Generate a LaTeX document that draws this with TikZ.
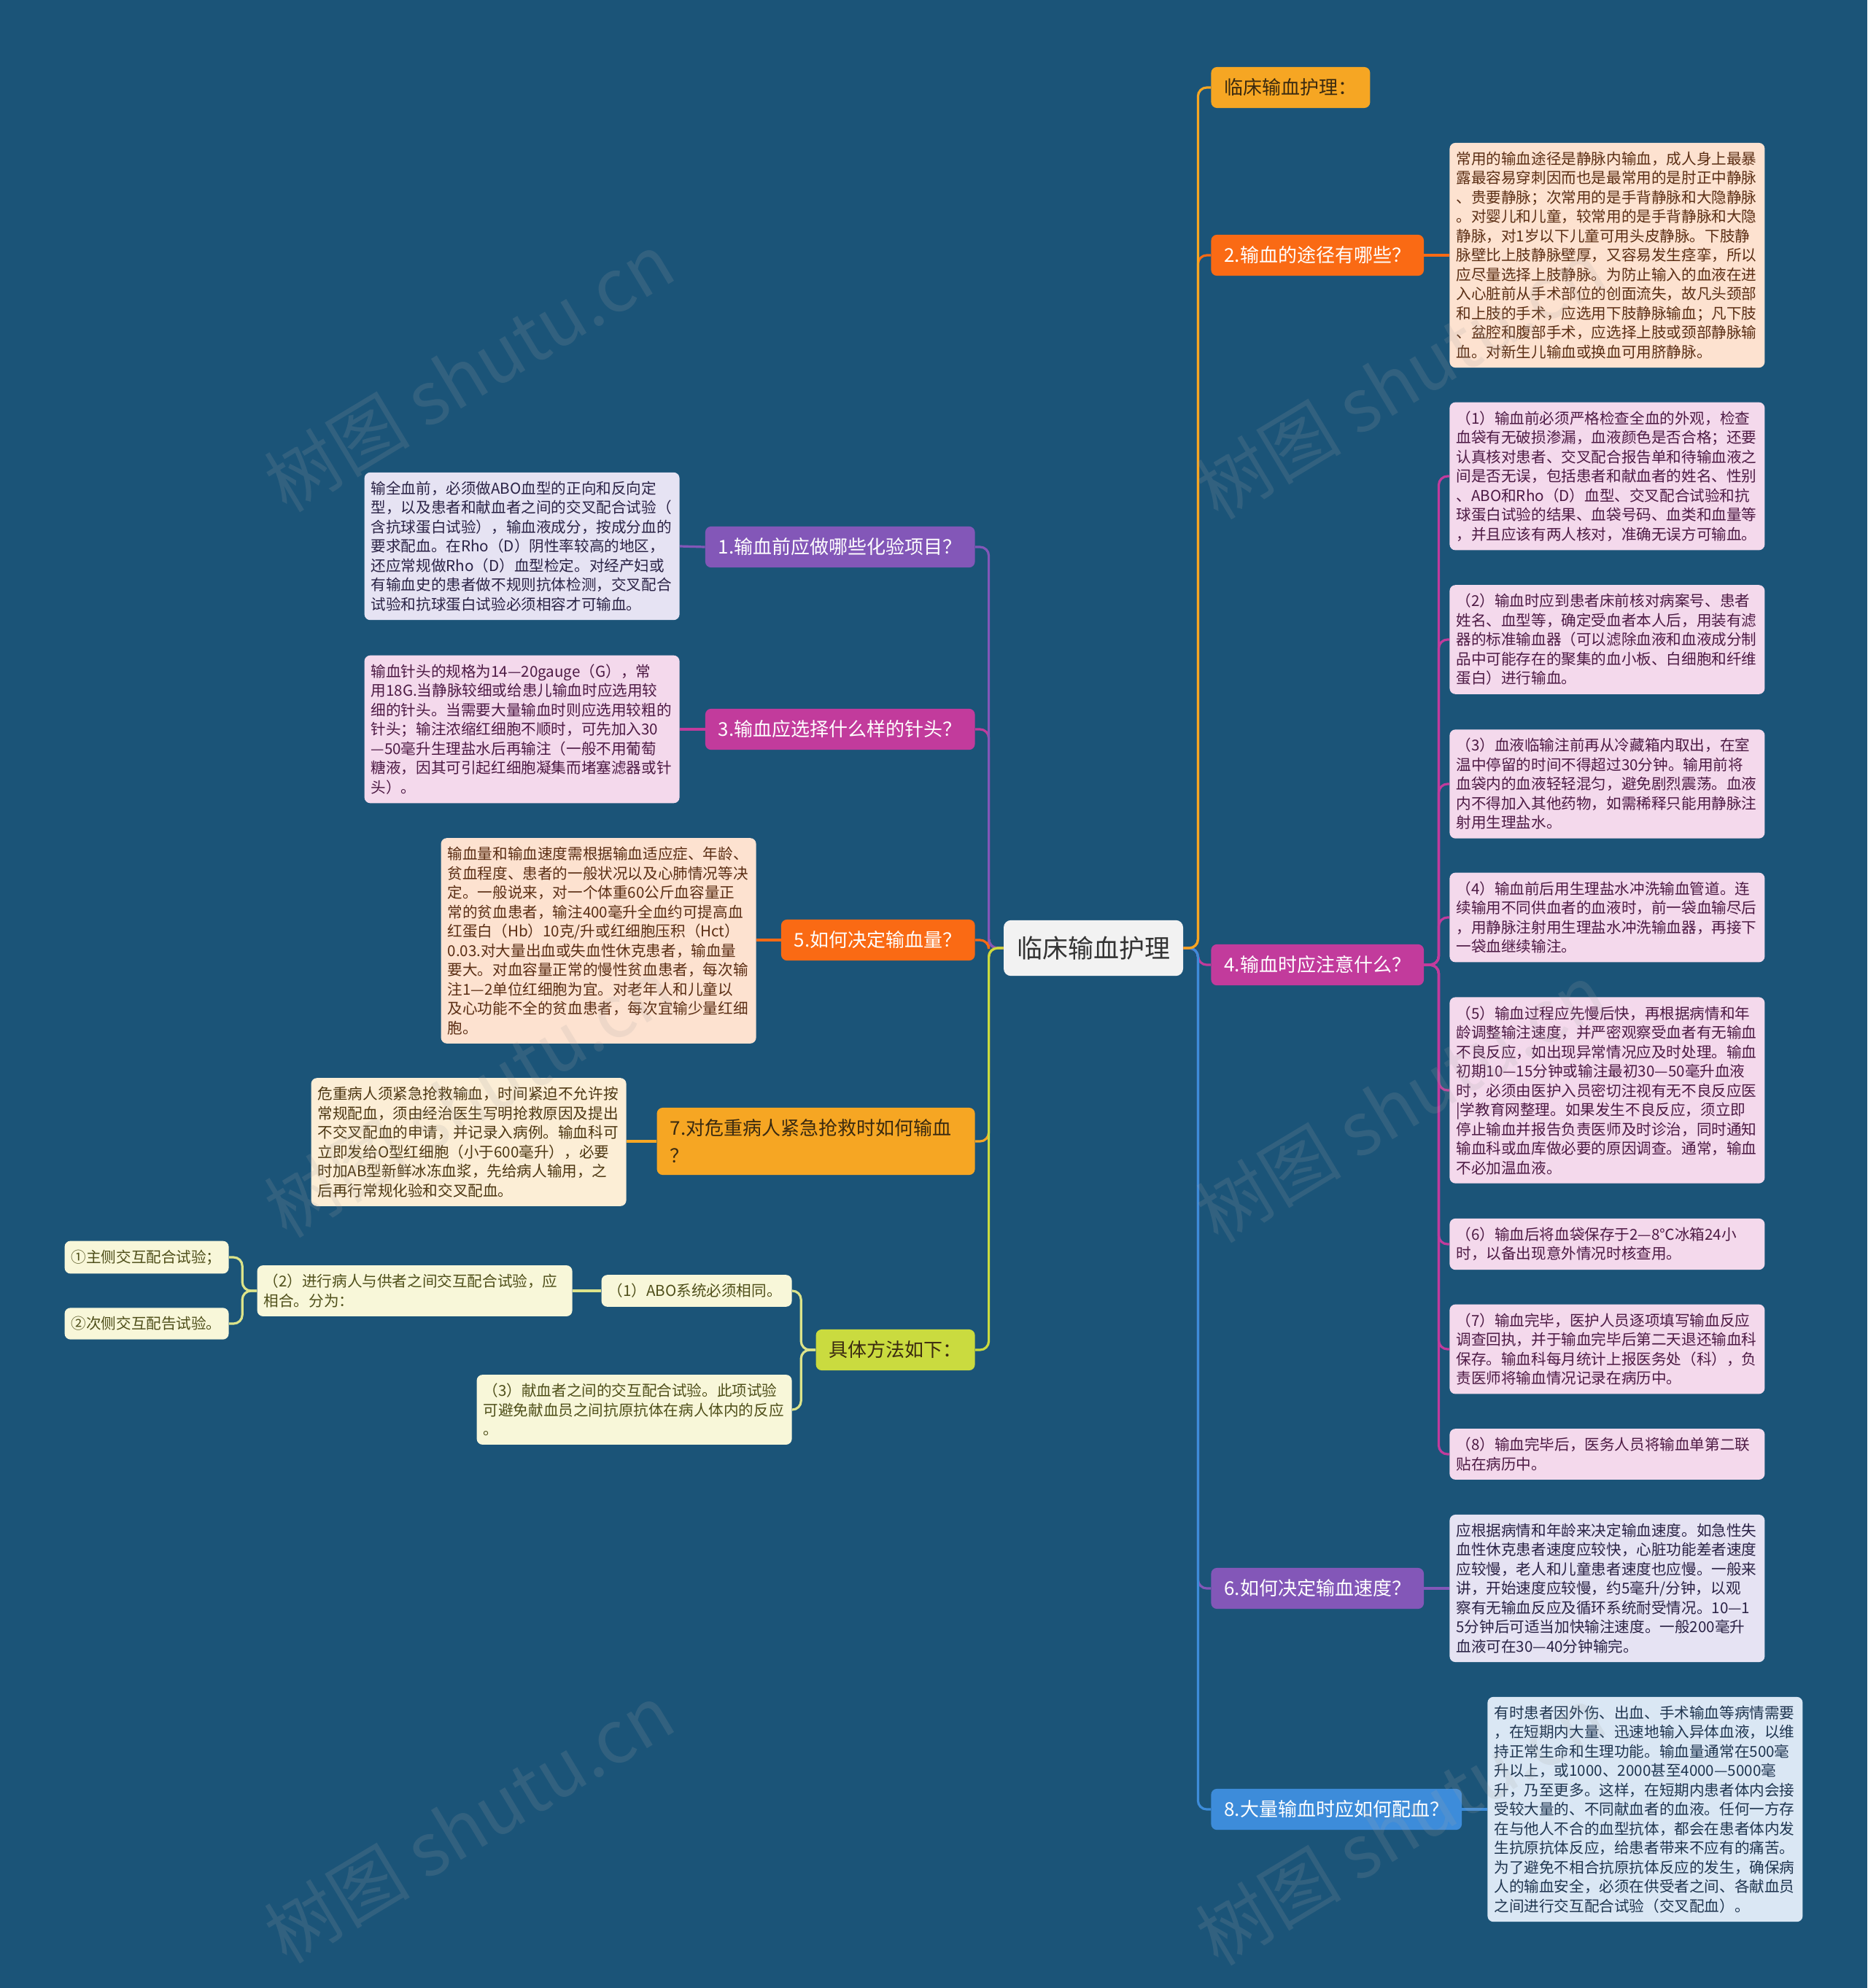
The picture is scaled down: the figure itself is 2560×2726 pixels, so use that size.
\documentclass[tikz,border=0pt]{standalone}
\usepackage{fontspec}
\setmainfont{Noto Sans CJK SC}
\definecolor{bgblue}{HTML}{1B5478}
\definecolor{rootfill}{HTML}{F2F2F2}
\definecolor{cAmber}{HTML}{F6A623}
\definecolor{cOrange}{HTML}{FA6A14}
\definecolor{cMagenta}{HTML}{C23B9C}
\definecolor{cPurple}{HTML}{8357B8}
\definecolor{cBlue}{HTML}{3D8CDA}
\definecolor{cLime}{HTML}{CADB3F}
\definecolor{lLime}{HTML}{DCE48A}
\definecolor{fPeach}{HTML}{FDE2D0}
\definecolor{fPink}{HTML}{F4D9EC}
\definecolor{fLav}{HTML}{E6E3F3}
\definecolor{fSky}{HTML}{DAE7F4}
\definecolor{fCream}{HTML}{FCEED6}
\definecolor{fLemon}{HTML}{F8F7D9}
\definecolor{tPeach}{HTML}{5B2E14}
\definecolor{tPink}{HTML}{4D1A44}
\definecolor{tLav}{HTML}{2A2245}
\definecolor{tSky}{HTML}{1F3550}
\definecolor{tCream}{HTML}{4D3712}
\definecolor{tLemon}{HTML}{4F4F1A}
\definecolor{tDark}{HTML}{3A2A10}
\tikzset{
  root/.style={fill=rootfill, text=black!80, rounded corners=5pt, inner xsep=9pt, inner ysep=11pt, font=\fontsize{17.5}{21}\selectfont},
  topic/.style={fill=#1, text=white, rounded corners=4pt, inner xsep=9pt, inner ysep=8pt, font=\fontsize{13}{19}\selectfont},
  note/.style={rounded corners=4pt, inner xsep=4.5pt, inner ysep=6pt, text width=207pt, align=left, font=\fontsize{10.3}{13.25}\selectfont},
  peach/.style={note, fill=fPeach, text=tPeach},
  pink/.style={note, fill=fPink, text=tPink},
  lav/.style={note, fill=fLav, text=tLav},
  sky/.style={note, fill=fSky, text=tSky},
  cream/.style={note, fill=fCream, text=tCream},
  lemon/.style={note, fill=fLemon, text=tLemon},
  link/.style={draw=#1, line width=1.6pt, rounded corners=6pt},
  wm/.style={text=gray!70, opacity=0.17, rotate=31, font=\fontsize{50}{50}\selectfont}
}
\begin{document}
\begin{tikzpicture}[x=0.5pt,y=-0.5pt]
\fill[bgblue] (0,0) rectangle (2560,2726);
\useasboundingbox (0,0) rectangle (2560,2726);

\node[root] (root) at (1499,1300) {临床输血护理};

\node[topic=cAmber, text=tDark, anchor=west] (t0) at (1660,120) {临床输血护理：};
\node[topic=cOrange, anchor=west] (t2) at (1660,350) {2.输血的途径有哪些？};
\node[topic=cMagenta, anchor=west] (t4) at (1660,1323) {4.输血时应注意什么？};
\node[topic=cPurple, anchor=west] (t6) at (1660,2178) {6.如何决定输血速度？};
\node[topic=cBlue, anchor=west] (t8) at (1660,2481) {8.大量输血时应如何配血？};

\node[topic=cPurple, anchor=east] (t1) at (1337,750) {1.输血前应做哪些化验项目？};
\node[topic=cMagenta, anchor=east] (t3) at (1337,1000) {3.输血应选择什么样的针头？};
\node[topic=cOrange, anchor=east] (t5) at (1337,1289) {5.如何决定输血量？};
\node[topic=cAmber, text=tDark, anchor=east, text width=200pt, align=left] (t7) at (1337,1565) {7.对危重病人紧急抢救时如何输血\\？};
\node[topic=cLime, text=tDark, anchor=east] (tm) at (1337,1851) {具体方法如下：};

\node[peach, anchor=west] (n2) at (1987,350) {常用的输血途径是静脉内输血，成人身上最暴\\露最容易穿刺因而也是最常用的是肘正中静脉\\、贵要静脉；次常用的是手背静脉和大隐静脉\\。对婴儿和儿童，较常用的是手背静脉和大隐\\静脉，对1岁以下儿童可用头皮静脉。下肢静\\脉壁比上肢静脉壁厚，又容易发生痉挛，所以\\应尽量选择上肢静脉。为防止输入的血液在进\\入心脏前从手术部位的创面流失，故凡头颈部\\和上肢的手术，应选用下肢静脉输血；凡下肢\\、盆腔和腹部手术，应选择上肢或颈部静脉输\\血。对新生儿输血或换血可用脐静脉。};

\node[pink, anchor=west] (r1) at (1987,653) {（1）输血前必须严格检查全血的外观，检查\\血袋有无破损渗漏，血液颜色是否合格；还要\\认真核对患者、交叉配合报告单和待输血液之\\间是否无误，包括患者和献血者的姓名、性别\\、ABO和Rho（D）血型、交叉配合试验和抗\\球蛋白试验的结果、血袋号码、血类和血量等\\，并且应该有两人核对，准确无误方可输血。};
\node[pink, anchor=west] (r2) at (1987,877) {（2）输血时应到患者床前核对病案号、患者\\姓名、血型等，确定受血者本人后，用装有滤\\器的标准输血器（可以滤除血液和血液成分制\\品中可能存在的聚集的血小板、白细胞和纤维\\蛋白）进行输血。};
\node[pink, anchor=west] (r3) at (1987,1075) {（3）血液临输注前再从冷藏箱内取出，在室\\温中停留的时间不得超过30分钟。输用前将\\血袋内的血液轻轻混匀，避免剧烈震荡。血液\\内不得加入其他药物，如需稀释只能用静脉注\\射用生理盐水。};
\node[pink, anchor=west] (r4) at (1987,1258) {（4）输血前后用生理盐水冲洗输血管道。连\\续输用不同供血者的血液时，前一袋血输尽后\\，用静脉注射用生理盐水冲洗输血器，再接下\\一袋血继续输注。};
\node[pink, anchor=west] (r5) at (1987,1495) {（5）输血过程应先慢后快，再根据病情和年\\龄调整输注速度，并严密观察受血者有无输血\\不良反应，如出现异常情况应及时处理。输血\\初期10—15分钟或输注最初30—50毫升血液\\时，必须由医护入员密切注视有无不良反应医\\|学教育网整理。如果发生不良反应，须立即\\停止输血并报告负责医师及时诊治，同时通知\\输血科或血库做必要的原因调查。通常，输血\\不必加温血液。};
\node[pink, anchor=west] (r6) at (1987,1706) {（6）输血后将血袋保存于2—8℃冰箱24小\\时，以备出现意外情况时核查用。};
\node[pink, anchor=west] (r7) at (1987,1850) {（7）输血完毕，医护人员逐项填写输血反应\\调查回执，并于输血完毕后第二天退还输血科\\保存。输血科每月统计上报医务处（科），负\\责医师将输血情况记录在病历中。};
\node[pink, anchor=west] (r8) at (1987,1994) {（8）输血完毕后，医务人员将输血单第二联\\贴在病历中。};

\node[lav, anchor=west] (n6) at (1987,2178) {应根据病情和年龄来决定输血速度。如急性失\\血性休克患者速度应较快，心脏功能差者速度\\应较慢，老人和儿童患者速度也应慢。一般来\\讲，开始速度应较慢，约5毫升/分钟，以观\\察有无输血反应及循环系统耐受情况。10—1\\5分钟后可适当加快输注速度。一般200毫升\\血液可在30—40分钟输完。};
\node[sky, anchor=west] (n8) at (2039,2481) {有时患者因外伤、出血、手术输血等病情需要\\，在短期内大量、迅速地输入异体血液，以维\\持正常生命和生理功能。输血量通常在500毫\\升以上，或1000、2000甚至4000—5000毫\\升，乃至更多。这样，在短期内患者体内会接\\受较大量的、不同献血者的血液。任何一方存\\在与他人不合的血型抗体，都会在患者体内发\\生抗原抗体反应，给患者带来不应有的痛苦。\\为了避免不相合抗原抗体反应的发生，确保病\\人的输血安全，必须在供受者之间、各献血员\\之间进行交互配合试验（交叉配血）。};

\node[lav, anchor=east] (n1) at (932,749) {输全血前，必须做ABO血型的正向和反向定\\型，以及患者和献血者之间的交叉配合试验（\\含抗球蛋白试验），输血液成分，按成分血的\\要求配血。在Rho（D）阴性率较高的地区，\\还应常规做Rho（D）血型检定。对经产妇或\\有输血史的患者做不规则抗体检测，交叉配合\\试验和抗球蛋白试验必须相容才可输血。};
\node[pink, anchor=east] (n3) at (932,1000) {输血针头的规格为14—20gauge（G），常\\用18G.当静脉较细或给患儿输血时应选用较\\细的针头。当需要大量输血时则应选用较粗的\\针头；输注浓缩红细胞不顺时，可先加入30\\—50毫升生理盐水后再输注（一般不用葡萄\\糖液，因其可引起红细胞凝集而堵塞滤器或针\\头）。};
\node[peach, anchor=east] (n5) at (1037,1290) {输血量和输血速度需根据输血适应症、年龄、\\贫血程度、患者的一般状况以及心肺情况等决\\定。一般说来，对一个体重60公斤血容量正\\常的贫血患者，输注400毫升全血约可提高血\\红蛋白（Hb）10克/升或红细胞压积（Hct）\\0.03.对大量出血或失血性休克患者，输血量\\要大。对血容量正常的慢性贫血患者，每次输\\注1—2单位红细胞为宜。对老年人和儿童以\\及心功能不全的贫血患者，每次宜输少量红细\\胞。};
\node[cream, anchor=east] (n7) at (859,1566) {危重病人须紧急抢救输血，时间紧迫不允许按\\常规配血，须由经治医生写明抢救原因及提出\\不交叉配血的申请，并记录入病例。输血科可\\立即发给O型红细胞（小于600毫升），必要\\时加AB型新鲜冰冻血浆，先给病人输用，之\\后再行常规化验和交叉配血。};

\node[lemon, anchor=east, text width=121.5pt] (m1) at (1086,1770) {（1）ABO系统必须相同。};
\node[lemon, anchor=east] (m2) at (785,1770) {（2）进行病人与供者之间交互配合试验，应\\相合。分为：};
\node[lemon, anchor=east] (m3) at (1086,1933) {（3）献血者之间的交互配合试验。此项试验\\可避免献血员之间抗原抗体在病人体内的反应\\。};
\node[lemon, anchor=east, text width=103.5pt] (c1) at (314,1724) {①主侧交互配合试验；};
\node[lemon, anchor=east, text width=103.5pt] (c2) at (314,1815) {②次侧交互配告试验。};

\draw[link=cMagenta] (root.east) -- ++(20,0) |- (t4.west);
\draw[link=cPurple] (root.east) -- ++(20,0) |- (t6.west);
\draw[link=cBlue] (root.east) -- ++(20,0) |- (t8.west);
\draw[link=cOrange] (root.east) -- ++(20,0) |- (t2.west);
\draw[link=cAmber] (root.east) -- ++(20,0) |- (t0.west);
\draw[link=cOrange] (root.west) -- ++(-20,0) |- (t5.east);
\draw[link=cMagenta] (root.west) -- ++(-20,0) |- (t3.east);
\draw[link=cPurple] (root.west) -- ++(-20,0) |- (t1.east);
\draw[link=cAmber] (root.west) -- ++(-20,0) |- (t7.east);
\draw[link=cLime] (root.west) -- ++(-20,0) |- (tm.east);

\draw[link=cOrange] (t2.east) -- (n2.west);
\foreach \r in {r1,r2,r3,r4,r5,r6,r7,r8}
  \draw[link=cMagenta] (t4.east) -- ++(20,0) |- (\r.west);
\draw[link=cPurple] (t6.east) -- (n6.west);
\draw[link=cBlue] (t8.east) -- (n8.west);
\draw[link=cPurple] (t1.west) -- (n1.east);
\draw[link=cMagenta] (t3.west) -- (n3.east);
\draw[link=cOrange] (t5.west) -- (n5.east |- t5.west);
\draw[link=cAmber] (t7.west) -- (n7.east |- t7.west);
\draw[link=lLime] (tm.west) -- ++(-20,0) |- (m1.east);
\draw[link=lLime] (tm.west) -- ++(-20,0) |- (m3.east);
\draw[link=lLime] (m1.west) -- (m2.east);
\draw[link=lLime] (m2.west) -- ++(-20,0) |- (c1.east);
\draw[link=lLime] (m2.west) -- ++(-20,0) |- (c2.east);

\foreach \i/\x/\y in {1/643/510,2/1920/520,3/643/1505,4/1920/1512,5/643/2500,6/1920/2503}
  \node[wm] (wm\i) at (\x,\y) {树图 shutu.cn};
\end{tikzpicture}
\end{document}
